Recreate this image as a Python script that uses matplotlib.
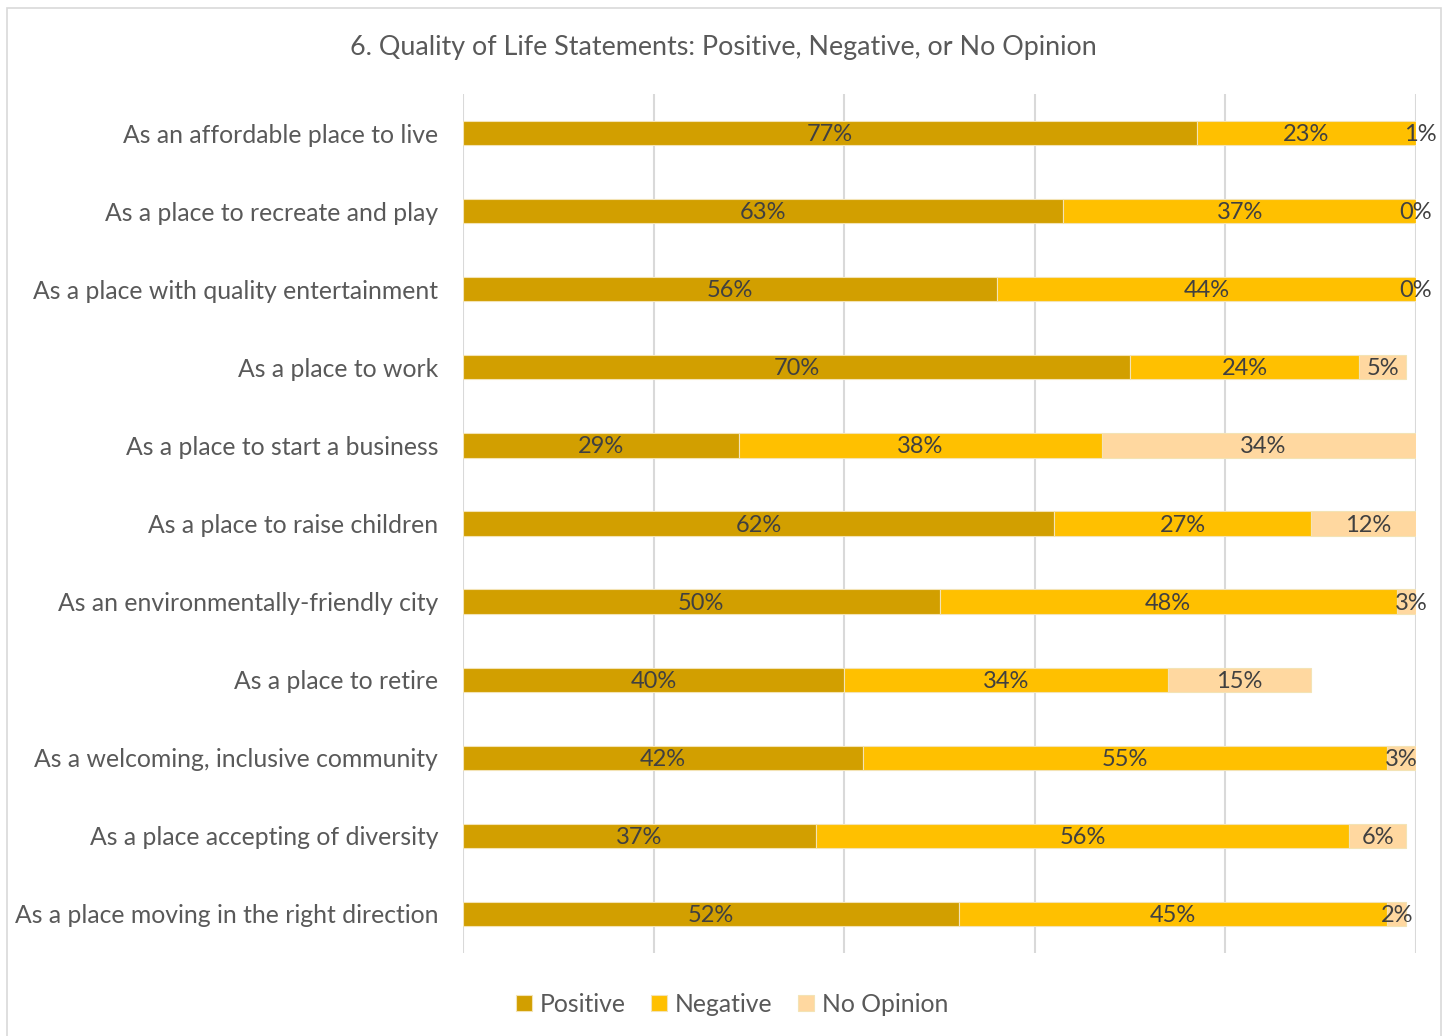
import matplotlib.pyplot as plt
from matplotlib.patches import Rectangle

plt.rcParams['font.family'] = ['Lato', 'DejaVu Sans']

categories = [
    'As an affordable place to live',
    'As a place to recreate and play',
    'As a place with quality entertainment',
    'As a place to work',
    'As a place to start a business',
    'As a place to raise children',
    'As an environmentally-friendly city',
    'As a place to retire',
    'As a welcoming, inclusive community',
    'As a place accepting of diversity',
    'As a place moving in the right direction',
]
positive = [77, 63, 56, 70, 29, 62, 50, 40, 42, 37, 52]
negative = [23, 37, 44, 24, 38, 27, 48, 34, 55, 56, 45]
no_opinion = [1, 0, 0, 5, 34, 12, 3, 15, 3, 6, 2]

series = [('Positive', positive, '#D29F00'),
          ('Negative', negative, '#FFC000'),
          ('No Opinion', no_opinion, '#FFD8A0')]

fig = plt.figure(figsize=(14.49, 10.36), dpi=100)
ax = fig.add_axes([463 / 1449, 1 - 953 / 1036, (1416 - 463) / 1449, (953 - 94) / 1036])

# light frame around the whole chart
fig.patches.append(Rectangle((7 / 1449, -0.01), (1441 - 7) / 1449, 1.01 - 8 / 1036,
                             transform=fig.transFigure, fill=False,
                             edgecolor='#D9D9D9', linewidth=1.2))

ypos = list(range(len(categories)))
left = [0] * len(categories)
for name, vals, color in series:
    frac = [v / 100 for v in vals]
    bars = ax.barh(ypos, frac, left=left, height=0.31, color=color,
                   edgecolor='#F3E3B5', linewidth=0.8, label=name, zorder=3)
    for b, v in zip(bars, vals):
        ax.text(b.get_x() + b.get_width() / 2, b.get_y() + b.get_height() / 2 + 0.02,
                f'{v}%', ha='center', va='center', fontsize=17, color='#404040',
                zorder=4, clip_on=False)
    left = [l + f for l, f in zip(left, frac)]

ax.set_xlim(0, 1)
ax.set_ylim(len(categories) - 0.5, -0.5)
ax.set_xticks([0, 0.2, 0.4, 0.6, 0.8, 1.0])
ax.set_xticklabels([])
ax.tick_params(axis='x', length=0)
ax.tick_params(axis='y', length=0, pad=18)
ax.set_yticks(ypos)
ax.set_yticklabels(categories, fontsize=17.8, color='#595959')
ax.grid(axis='x', color='#D9D9D9', linewidth=1.5, zorder=0)
for s in ax.spines.values():
    s.set_visible(False)

fig.text(723 / 1449, 1 - 47 / 1036, '6. Quality of Life Statements: Positive, Negative, or No Opinion',
         ha='center', va='center', fontsize=19.4, color='#595959')

fig.legend(loc='center', bbox_to_anchor=(732 / 1449, 1 - 1004 / 1036), ncol=3, frameon=False,
           fontsize=17.8, labelcolor='#595959', handlelength=0.65, handleheight=0.65,
           handletextpad=0.3, columnspacing=1.05)

fig.savefig('out.png', dpi=100)
